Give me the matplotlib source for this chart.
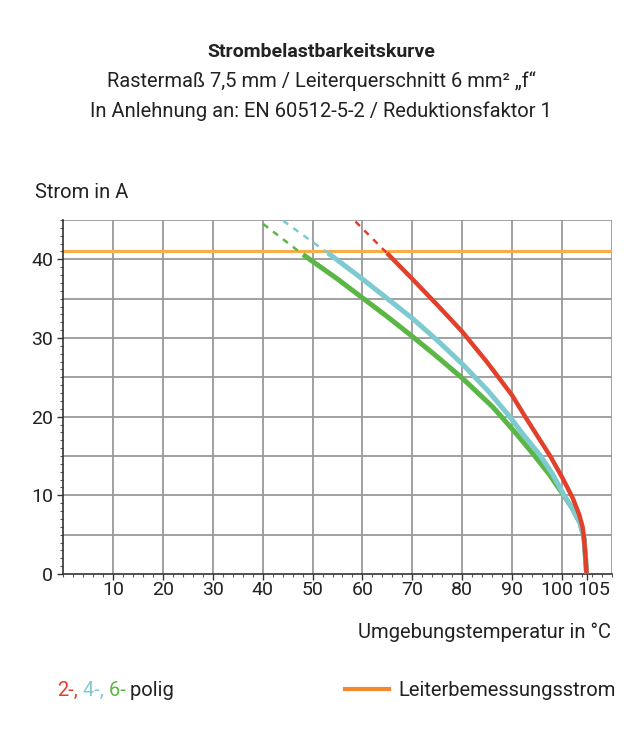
import numpy as np
import matplotlib
matplotlib.use("Agg")
import matplotlib.pyplot as plt
from matplotlib.ticker import MultipleLocator, FixedLocator
from matplotlib.transforms import ScaledTranslation

plt.rcParams['font.family'] = ['Roboto', 'DejaVu Sans']

# data (temperature in degC, current in A)
red_dash_t = [58.6, 64.9]
red_dash_i = [44.8, 40.8]
red_t = [64.9, 70, 75, 80, 85, 90, 92.6, 95, 97.7, 100, 102.1, 103.4, 104.1, 104.4, 104.7, 104.9]
red_i = [40.8, 37.5, 34.2, 30.8, 26.9, 22.7, 20.0, 17.6, 14.9, 12.3, 9.7, 7.6, 6.0, 4.5, 2.0, 0]

cyan_dash_t = [44.1, 53.1]
cyan_dash_i = [44.9, 40.8]
cyan_t = [53.1, 60, 65, 70, 75, 80, 85, 89.4, 92, 95.7, 98, 100.4, 102, 103.6, 104.4, 104.7, 104.9]
cyan_i = [40.8, 37.5, 35.0, 32.5, 29.7, 26.7, 23.4, 20.1, 17.9, 15.0, 12.8, 10.0, 8.4, 6.5, 4.5, 2.0, 0]

green_dash_t = [40.1, 48.1]
green_dash_i = [44.5, 40.6]
green_t = [48.1, 55, 60, 65, 70, 75, 80, 82, 84, 86, 87.7, 91, 94.4, 97.5, 100, 102, 103.6, 104.4, 104.7, 104.9]
green_i = [40.6, 37.5, 35.1, 32.7, 30.2, 27.6, 24.9, 23.7, 22.5, 21.3, 20.1, 17.7, 15.1, 12.6, 10.3, 8.4, 6.5, 4.5, 2.0, 0]

rated_current = 41.0

x_ticks = [10, 20, 30, 40, 50, 60, 70, 80, 90, 100, 105]
y_ticks = [0, 10, 20, 30, 40]

RED = '#e2402b'
CYAN = '#7dcbd0'
GREEN = '#5cb646'
ORANGE = '#f8ad4a'
ORANGE_LEG = '#f2892a'
GRID = '#9a9a9a'

fig = plt.figure(figsize=(6.42, 7.53), dpi=100)
ax = fig.add_axes([63/642, 1 - 574/753, (612-63)/642, (574-220)/753])

ax.set_xlim(0, 110)
ax.set_ylim(0, 45)

# grid
for gx in range(10, 111, 10):
    ax.axvline(gx, color=GRID, lw=1.3, zorder=1)
for gy in range(5, 46, 5):
    ax.axhline(gy, color=GRID, lw=1.3, zorder=1)

ax.axhline(rated_current, color=ORANGE, lw=2.2, zorder=2)

ax.plot(green_dash_t, green_dash_i, color=GREEN, lw=1.8, ls=(0, (2.5, 2.5)), zorder=3)
ax.plot(cyan_dash_t, cyan_dash_i, color=CYAN, lw=1.8, ls=(0, (2.5, 2.5)), zorder=3)
ax.plot(red_dash_t, red_dash_i, color=RED, lw=1.8, ls=(0, (2.5, 2.5)), zorder=3)
ax.plot(green_t, green_i, color=GREEN, lw=3.6, zorder=4, solid_capstyle='butt')
ax.plot(cyan_t, cyan_i, color=CYAN, lw=3.6, zorder=4, solid_capstyle='butt')
ax.plot(red_t, red_i, color=RED, lw=3.2, zorder=5, solid_capstyle='butt')

for s in ['top', 'right']:
    ax.spines[s].set_visible(False)
for s in ['left', 'bottom']:
    ax.spines[s].set_color('#333333')
    ax.spines[s].set_linewidth(1.2)

ax.xaxis.set_major_locator(FixedLocator(x_ticks))
ax.xaxis.set_minor_locator(MultipleLocator(2))
ax.yaxis.set_major_locator(FixedLocator(y_ticks))
ax.yaxis.set_minor_locator(MultipleLocator(1))
ax.tick_params(axis='both', which='major', length=4, width=1.0, color='#333333',
               labelsize=14, labelcolor='#222222')
ax.tick_params(axis='both', which='minor', length=2.5, width=0.8, color='#555555')
ax.tick_params(axis='x', pad=1)
ax.tick_params(axis='y', pad=3)

# nudge the crowded 100 / 105 labels apart like the original
for lab, dx in zip(ax.get_xticklabels()[-2:], [-5, 7]):
    lab.set_transform(lab.get_transform() + ScaledTranslation(dx/100, 0, fig.dpi_scale_trans))

fig.text(0.5, 1 - 52/753, 'Strombelastbarkeitskurve', ha='center', va='center',
         fontsize=14, fontweight='bold', color='#222222')
fig.text(0.5, 1 - 81/753, 'Rastermaß 7,5 mm / Leiterquerschnitt 6 mm² „f“', ha='center',
         va='center', fontsize=14.5, color='#222222')
fig.text(0.5, 1 - 111/753, 'In Anlehnung an: EN 60512-5-2 / Reduktionsfaktor 1', ha='center',
         va='center', fontsize=14.5, color='#222222')

fig.text(35/642, 1 - 192/753, 'Strom in A', ha='left', va='center', fontsize=14.5, color='#222222')
fig.text(611/642, 1 - 632/753, 'Umgebungstemperatur in °C', ha='right', va='center',
         fontsize=14.5, color='#222222')

# legend: coloured pole text pieces
fig.canvas.draw()
renderer = fig.canvas.get_renderer()
xpos = 57
for txt, col in [('2-,', RED), (' 4-,', CYAN), (' 6-', GREEN), (' polig', '#222222')]:
    t = fig.text(xpos/642, 1 - 690/753, txt, ha='left', va='center', fontsize=14.5, color=col)
    bb = t.get_window_extent(renderer)
    xpos += bb.width

fig.add_artist(plt.Line2D([345/642, 389/642], [1 - 689/753, 1 - 689/753],
                          color=ORANGE_LEG, lw=3, transform=fig.transFigure))
fig.text(398/642, 1 - 690/753, 'Leiterbemessungsstrom', ha='left', va='center',
         fontsize=14.5, color='#222222')

fig.savefig('out.png', dpi=100)
